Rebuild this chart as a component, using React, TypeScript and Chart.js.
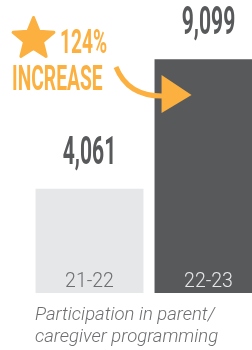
import React, { useEffect, useRef } from "react";
import { Chart, registerables } from "chart.js";

Chart.register(...registerables);

const categories = ["21-22", "22-23"];
const values = [4061, 9099];
const valueLabels = ["4,061", "9,099"];
const barColors = ["#e6e7e8", "#58595b"];
const categoryLabelColors = ["#6d6e71", "#e6e7e8"];
const increaseLabel = ["124%", "INCREASE"];
const captionLines = ["Participation in parent/", "caregiver programming"];
const yMax = 11400;

const ORANGE = "#fbb040";

function drawStar(ctx: CanvasRenderingContext2D, cx: number, cy: number, R: number, r: number) {
  ctx.beginPath();
  for (let i = 0; i < 10; i++) {
    const rad = i % 2 === 0 ? R : r;
    const a = -Math.PI / 2 + (i * Math.PI) / 5;
    const x = cx + rad * Math.cos(a);
    const y = cy + rad * Math.sin(a);
    if (i === 0) ctx.moveTo(x, y);
    else ctx.lineTo(x, y);
  }
  ctx.closePath();
  ctx.fill();
  ctx.stroke();
}

function condensedText(
  ctx: CanvasRenderingContext2D,
  text: string,
  x: number,
  y: number,
  font: string,
  sx: number,
  align: CanvasTextAlign
) {
  ctx.save();
  ctx.font = font;
  ctx.textAlign = align;
  ctx.textBaseline = "alphabetic";
  ctx.translate(x, y);
  ctx.scale(sx, 1);
  ctx.fillText(text, 0, 0);
  ctx.restore();
}

const labelsPlugin = {
  id: "customLabels",
  afterDatasetsDraw(chart: any) {
    const ctx: CanvasRenderingContext2D = chart.ctx;
    const meta = chart.getDatasetMeta(0);
    meta.data.forEach((bar: any, i: number) => {
      ctx.fillStyle = "#58595b";
      condensedText(ctx, valueLabels[i], bar.x, bar.y - 25, "bold 39px Roboto", 0.54, "center");
      ctx.save();
      ctx.font = "300 19.5px Roboto";
      ctx.fillStyle = categoryLabelColors[i];
      ctx.textAlign = "center";
      ctx.textBaseline = "alphabetic";
      ctx.fillText(categories[i], bar.x, bar.base - 6);
      ctx.restore();
    });

    // annotation: star, text and arrow
    const bar2 = meta.data[1];
    const left2 = bar2.x - bar2.width / 2;
    ctx.save();
    ctx.fillStyle = ORANGE;
    ctx.strokeStyle = ORANGE;
    ctx.lineWidth = 3;
    ctx.lineJoin = "round";
    drawStar(ctx, 33.5, 39, 21.5, 9.5);
    condensedText(ctx, increaseLabel[0], 60, 53, "bold 33px Roboto", 0.58, "left");
    condensedText(ctx, increaseLabel[1], 12, 90, "bold 35px Roboto", 0.55, "left");

    ctx.lineWidth = 5;
    ctx.lineCap = "butt";
    ctx.beginPath();
    ctx.moveTo(116, 67);
    ctx.quadraticCurveTo(128, 97, left2 + 10, 96);
    ctx.stroke();

    ctx.beginPath();
    ctx.moveTo(left2 + 7, 75);
    ctx.lineTo(left2 + 37, 95);
    ctx.lineTo(left2 + 7, 113);
    ctx.closePath();
    ctx.fill();
    ctx.restore();
  },
};

export default function App() {
  const canvasRef = useRef<HTMLCanvasElement | null>(null);

  useEffect(() => {
    if (!canvasRef.current) return;
    const chart = new Chart(canvasRef.current, {
      type: "bar",
      data: {
        labels: categories,
        datasets: [
          {
            data: values,
            backgroundColor: barColors,
            borderWidth: 0,
            categoryPercentage: 1,
            barPercentage: 0.907,
          },
        ],
      },
      options: {
        animation: false,
        responsive: true,
        maintainAspectRatio: false,
        layout: { padding: { left: 30, right: 0, top: 0, bottom: 57 } },
        plugins: {
          legend: { display: false },
          tooltip: { enabled: false },
          title: { display: false },
        },
        scales: {
          x: { display: false },
          y: { display: false, min: 0, max: yMax },
        },
      },
      plugins: [labelsPlugin],
    });
    return () => chart.destroy();
  }, []);

  return (
    <div
      style={{
        position: "absolute",
        left: 0,
        top: 0,
        width: 252,
        height: 350,
        overflow: "hidden",
        background: "#ffffff",
      }}
    >
      <div style={{ position: "absolute", left: 0, top: 0, width: 268, height: 350 }}>
        <canvas ref={canvasRef} />
      </div>
      <div
        style={{
          position: "absolute",
          left: 35,
          top: 303,
          fontFamily: "Roboto",
          fontStyle: "italic",
          fontWeight: 300,
          fontSize: 18.5,
          lineHeight: "22px",
          color: "#6d6e71",
          whiteSpace: "nowrap",
        }}
      >
        {captionLines.map((l, i) => (
          <div key={i}>{l}</div>
        ))}
      </div>
    </div>
  );
}
